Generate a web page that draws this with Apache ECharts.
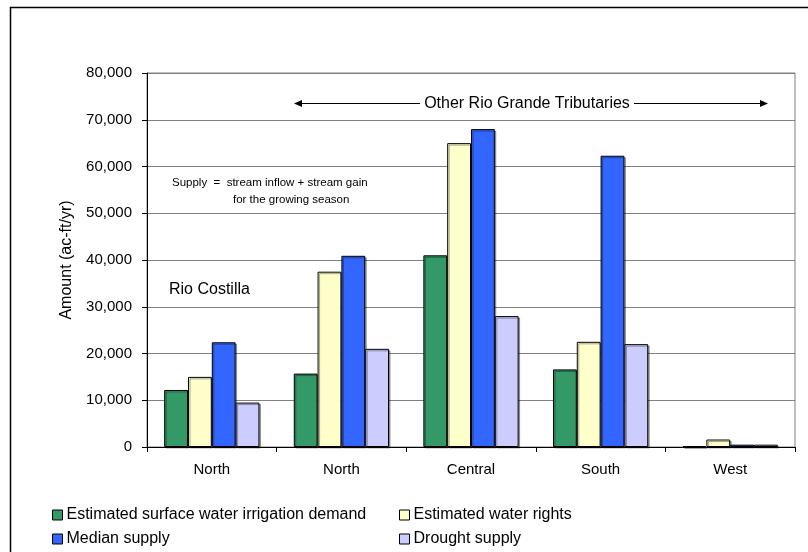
<!DOCTYPE html>
<html>
<head>
<meta charset="utf-8">
<script src="https://cdn.jsdelivr.net/npm/echarts@6/dist/echarts.min.js"></script>
<style>
  html, body { margin: 0; padding: 0; background: #fff; }
  #chart { width: 808px; height: 552px; }
</style>
</head>
<body>
<div id="chart"></div>
<script>
// Tributary regions along the axis
const categories = ['North', 'North', 'Central', 'South', 'West'];

// Annual amounts, ac-ft/yr
const irrigationDemand = [12200, 15700, 41000, 16600, 200];
const waterRights      = [15000, 37500, 65000, 22500, 1600];
const medianSupply     = [22400, 40900, 68000, 62300, 500];
const droughtSupply    = [9500, 21000, 28000, 22000, 500];

const seriesNames = [
  'Estimated surface water irrigation demand',
  'Estimated water rights',
  'Median supply',
  'Drought supply'
];
const seriesColors = ['#339966', '#FFFFCC', '#3366FF', '#CCCCFF'];
const seriesValues = [irrigationDemand, waterRights, medianSupply, droughtSupply];

const FONT = '"Liberation Sans", Arial, sans-serif';

const chart = echarts.init(document.getElementById('chart'), null, { renderer: 'canvas' });

const barSeries = seriesNames.map((name, i) => ({
  name: name,
  type: 'bar',
  data: seriesValues[i],
  barGap: '0%',
  barCategoryGap: '26.5%',
  itemStyle: {
    color: seriesColors[i],
    borderColor: '#000',
    borderWidth: 1,
    shadowColor: 'rgba(0,0,0,0.35)',
    shadowOffsetX: 1.5,
    shadowOffsetY: 1.5,
    shadowBlur: 0
  },
  emphasis: { disabled: true },
  animation: false
}));

// Two-column legend: one legend block per entry
const legendSlots = [
  { left: 52, top: 507 },
  { left: 399, top: 507 },
  { left: 52, top: 531 },
  { left: 399, top: 531 }
];
const legends = seriesNames.map((name, i) => ({
  data: [name],
  left: legendSlots[i].left,
  top: legendSlots[i].top,
  padding: 0,
  itemWidth: 10,
  itemHeight: 10,
  icon: 'rect',
  selectedMode: false,
  textStyle: { fontFamily: FONT, fontSize: 16, color: '#000', padding: [0, 0, 0, -1] },
  itemStyle: { borderColor: '#000', borderWidth: 1 }
}));

chart.setOption({
  backgroundColor: '#fff',
  animation: false,
  grid: {
    left: 147, right: 13, top: 73, bottom: 105,
    show: true, borderColor: '#808080', borderWidth: 1, backgroundColor: 'transparent'
  },
  legend: legends,
  xAxis: {
    type: 'category',
    data: categories,
    boundaryGap: true,
    axisLine: { lineStyle: { color: '#000', width: 1 } },
    axisTick: { show: true, length: 5, inside: false, lineStyle: { color: '#000' } },
    axisLabel: { fontFamily: FONT, fontSize: 15, color: '#000', margin: 15 },
    splitLine: { show: false }
  },
  yAxis: {
    type: 'value',
    min: 0,
    max: 80000,
    interval: 10000,
    name: 'Amount (ac-ft/yr)',
    nameLocation: 'middle',
    nameGap: 72,
    nameTextStyle: { fontFamily: FONT, fontSize: 16, color: '#000' },
    axisLine: { show: true, lineStyle: { color: '#000', width: 1 } },
    axisTick: { show: true, length: 5, inside: false, lineStyle: { color: '#000' } },
    axisLabel: {
      fontFamily: FONT, fontSize: 15, color: '#000', margin: 15,
      formatter: v => v.toLocaleString('en-US')
    },
    splitLine: { show: true, lineStyle: { color: '#808080', width: 1 } }
  },
  series: barSeries,
  graphic: [
    // outer chart frame
    {
      type: 'rect', silent: true, z: -1,
      shape: { x: 10.5, y: 7.5, width: 820, height: 560 },
      style: { fill: 'none', stroke: '#000', lineWidth: 1.5 }
    },
    // span of the other tributaries
    {
      type: 'line', silent: true,
      shape: { x1: 298, y1: 103.5, x2: 420, y2: 103.5 },
      style: { stroke: '#000', lineWidth: 1 }
    },
    {
      type: 'polygon', silent: true,
      shape: { points: [[294, 103.5], [302, 100], [302, 107]] },
      style: { fill: '#000' }
    },
    {
      type: 'text', silent: true,
      style: {
        x: 527, y: 103.5, text: 'Other Rio Grande Tributaries',
        font: '16px ' + FONT, fill: '#000', align: 'center', verticalAlign: 'middle'
      }
    },
    {
      type: 'line', silent: true,
      shape: { x1: 634, y1: 103.5, x2: 764, y2: 103.5 },
      style: { stroke: '#000', lineWidth: 1 }
    },
    {
      type: 'polygon', silent: true,
      shape: { points: [[768, 103.5], [760, 100], [760, 107]] },
      style: { fill: '#000' }
    },
    // supply definition note
    {
      type: 'text', silent: true,
      style: {
        x: 172, y: 183, text: 'Supply  =  stream inflow + stream gain',
        font: '11.5px ' + FONT, fill: '#000', align: 'left', verticalAlign: 'middle'
      }
    },
    {
      type: 'text', silent: true,
      style: {
        x: 233, y: 200, text: 'for the growing season',
        font: '11.5px ' + FONT, fill: '#000', align: 'left', verticalAlign: 'middle'
      }
    },
    {
      type: 'text', silent: true,
      style: {
        x: 169, y: 290, text: 'Rio Costilla',
        font: '16px ' + FONT, fill: '#000', align: 'left', verticalAlign: 'middle'
      }
    }
  ]
});
</script>
</body>
</html>
